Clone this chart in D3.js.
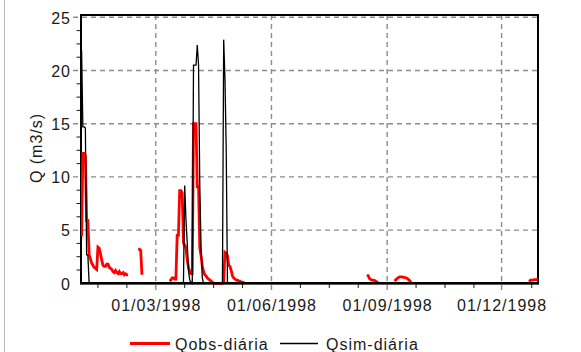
<!DOCTYPE html>
<html><head><meta charset="utf-8">
<script src="https://cdn.jsdelivr.net/npm/d3@7/dist/d3.min.js"></script>
<style>
html,body{margin:0;padding:0;background:#fff;}
svg{display:block;font-family:"Liberation Sans",Arial,sans-serif;}
</style></head><body>
<svg id="chart" width="581" height="352"></svg>
<script>
// ---- data ----
const tickLabels = ["01/03/1998","01/06/1998","01/09/1998","01/12/1998"];
const yTicks = [0,5,10,15,20,25];
const seriesNames = ["Qobs-diária","Qsim-diária"];
const yearStart = "1998-01-01";
const yearEnd = "1998-12-31";

// observed daily flow (m3/s), segments with their first day; gaps = missing data
const obsStarts = ["1998-01-01","1998-02-15","1998-03-12","1998-08-16","1998-09-07","1998-12-23"];
const obsJan = [4.4,12.2,12.2,12.0,5.9,5.9,2.7,2.3,1.9,1.7,1.5,1.4,1.3,3.4,3.3,2.8,2.2,1.7,1.6,1.6,1.8,1.8,1.5,1.4,1.3,1.1,1.0,1.2,1.0,0.9,1.1,0.9,0.9,1.0,0.8,0.9,0.8,0.8];
const obsFeb = [3.2,3.2,3.1,0.8];
const obsSpring = [0.2,0.3,0.5,0.5,0.4,0.4,4.5,4.5,8.7,8.7,8.5,3.8,3.6,3.3,2.2,1.5,1.1,0.9,0.9,15.0,15.0,15.0,9.1,9.1,3.3,2.6,1.6,1.1,0.8,0.7,0.5,0.4,0.3,0.2,0.1,0,0,0,0,0,0,0,0,0.1,2.9,2.8,2.6,1.7,1.6,1.2,0.7,0.5,0.4,0.3,0.3,0.2,0.2,0.1,0.1,0.05,0];
const obsAug = [0.8,0.7,0.45,0.35,0.3,0.3,0.25,0.2,0.1,0.05];
const obsSep = [0.2,0.35,0.45,0.55,0.6,0.6,0.6,0.55,0.55,0.5,0.45,0.35,0.25,0.1];
const obsDec = [0.15,0.3,0.3,0.3,0.35,0.35,0.35,0.4,0.4];

// simulated daily flow (m3/s): zero except these events
const simStarts = ["1998-01-01","1998-03-23","1998-04-23"];
const simJan = [21.9,14.7,14.7,14.6,2.7,2.6,0];
const simSpring = [0,9.2,6.0,3.8,1.2,0.3,0.1,0,20.5,20.5,20.5,22.4,20.5,9.1,3.4,0.5,0];
const simMay = [0,22.9,19.3,12.7,0];

// ---- build series ----
const parse = d3.utcParse("%Y-%m-%d");
const parseTick = d3.utcParse("%d/%m/%Y");
const fmtTick = d3.utcFormat("%d/%m/%Y");
const obsSegs = [obsJan,obsFeb,obsSpring,obsAug,obsSep,obsDec].map((vals,i)=>{
  const s = parse(obsStarts[i]);
  return vals.map((v,k)=>({date:d3.utcDay.offset(s,k), v}));
});
const allDays = d3.utcDay.range(parse(yearStart), d3.utcDay.offset(parse(yearEnd),1));
const simMap = new Map();
[simJan,simSpring,simMay].forEach((vals,i)=>{
  const s = parse(simStarts[i]);
  vals.forEach((v,k)=>simMap.set(+d3.utcDay.offset(s,k), v));
});
const sim = allDays.map(d=>({date:d, v: simMap.has(+d) ? simMap.get(+d) : 0}));

// ---- layout ----
const svg = d3.select("#chart");
const L = 81, R = 538, T = 15, B = 283.3;
const x = d3.scaleUtc().domain([parse(yearStart), parse(yearEnd)]).range([81.6, 539.3]);
const y = d3.scaleLinear().domain([0,25]).range([B, 17.3]);
const ink = "#1a1a1a";
const grid = "#8c8c8c";

// light left border of the panel
svg.append("line").attr("x1",4.5).attr("x2",4.5).attr("y1",0).attr("y2",352)
  .attr("stroke","#b8b8b8").attr("stroke-width",1);

const tickDates = tickLabels.map(parseTick);

// gridlines
svg.append("g").selectAll("line").data(yTicks.filter(t=>t>0)).join("line")
  .attr("x1",73).attr("x2",R).attr("y1",d=>y(d)).attr("y2",d=>y(d))
  .attr("stroke",grid).attr("stroke-width",1.4).attr("stroke-dasharray","5,4");
svg.append("g").selectAll("line").data(tickDates).join("line")
  .attr("x1",d=>x(d)).attr("x2",d=>x(d)).attr("y1",T).attr("y2",290)
  .attr("stroke",grid).attr("stroke-width",1.4).attr("stroke-dasharray","5,4");

// minor ticks
const yMinor = d3.range(0,25.01,1.25).filter(v=>v%5!==0);
svg.append("g").selectAll("line").data(yMinor).join("line")
  .attr("x1",76.5).attr("x2",L).attr("y1",d=>y(d)).attr("y2",d=>y(d))
  .attr("stroke",ink).attr("stroke-width",1);
const step = (tickDates[1]-tickDates[0]);
const xMinor = [];
for (let t = +tickDates[0] - step; t <= +tickDates[tickDates.length-1] + step; t += step/4) {
  const px = x(new Date(t));
  if (px > L + 2 && px < R - 2 && !tickDates.some(d=>Math.abs(x(d)-px)<3)) xMinor.push(new Date(t));
}
svg.append("g").selectAll("line").data(xMinor).join("line")
  .attr("x1",d=>x(d)).attr("x2",d=>x(d)).attr("y1",B).attr("y2",288)
  .attr("stroke",ink).attr("stroke-width",1);

// frame (under the series)
svg.append("rect").attr("x",L).attr("y",T).attr("width",R-L).attr("height",B-T)
  .attr("fill","none").attr("stroke","#000").attr("stroke-width",2);

// series
svg.append("clipPath").attr("id","clip").append("rect")
  .attr("x",L).attr("y",T).attr("width",R-L).attr("height",B-T+2);
const line = d3.line().x(d=>x(d.date)).y(d=>y(d.v));
const gS = svg.append("g").attr("clip-path","url(#clip)");
obsSegs.forEach(seg=>{
  gS.append("path").datum(seg).attr("d",line).attr("fill","none")
    .attr("stroke","#ff0000").attr("stroke-width",2.8).attr("stroke-linejoin","miter");
});
gS.append("path").datum(sim).attr("d",line).attr("fill","none")
  .attr("stroke","#000").attr("stroke-width",1.3);

// bottom axis line on top
svg.append("line").attr("x1",L-1).attr("x2",R+1).attr("y1",B).attr("y2",B)
  .attr("stroke","#000").attr("stroke-width",2.4);

// axes labels via d3 axes
const yAxis = svg.append("g").attr("transform",`translate(${L},0)`)
  .call(d3.axisLeft(y).tickValues(yTicks).tickSize(0).tickPadding(10).tickFormat(d3.format("d")));
yAxis.select(".domain").remove();
yAxis.selectAll("text").attr("font-size",16).attr("letter-spacing",1).attr("fill",ink)
  .attr("font-family","Liberation Sans, Arial, sans-serif").attr("dy","0.36em");

const xAxis = svg.append("g").attr("transform",`translate(0,${B})`)
  .call(d3.axisBottom(x).tickValues(tickDates).tickSize(0).tickFormat(fmtTick));
xAxis.select(".domain").remove();
xAxis.selectAll("text").attr("font-size",16).attr("letter-spacing",1).attr("fill",ink)
  .attr("font-family","Liberation Sans, Arial, sans-serif").attr("y",28.2).attr("dy",null);

// y title
svg.append("text").attr("transform","translate(41.5,148) rotate(-90)")
  .attr("text-anchor","middle").attr("font-size",16).attr("letter-spacing",1)
  .attr("fill",ink).text("Q (m3/s)");

// legend
const leg = [{name:seriesNames[0], color:"#ff0000", w:2.8, x1:130, x2:170, tx:175},
             {name:seriesNames[1], color:"#000", w:1.3, x1:280, x2:318, tx:326}];
const gL = svg.append("g");
leg.forEach(l=>{
  gL.append("line").attr("x1",l.x1).attr("x2",l.x2).attr("y1",343.5).attr("y2",343.5)
    .attr("stroke",l.color).attr("stroke-width",l.w);
  gL.append("text").attr("x",l.tx).attr("y",349.5).attr("font-size",16)
    .attr("letter-spacing",1).attr("fill",ink).text(l.name);
});
</script>
</body></html>
